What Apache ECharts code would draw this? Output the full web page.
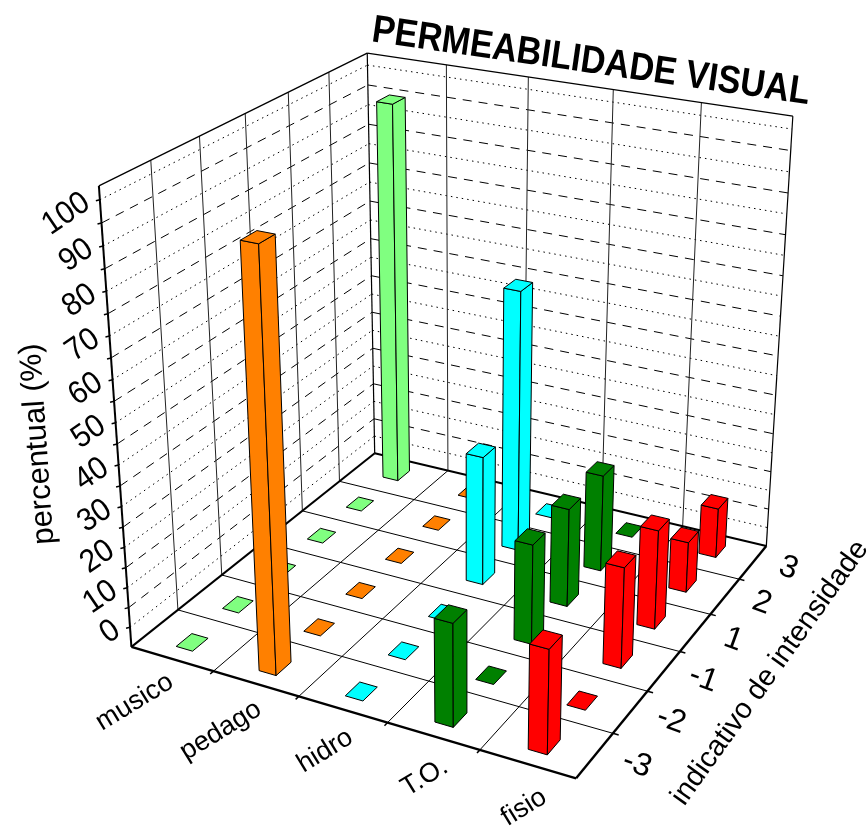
<!DOCTYPE html>
<html>
<head>
<meta charset="utf-8">
<title>Permeabilidade visual</title>
<style>html,body{margin:0;background:#fff}#main{width:867px;height:827px}</style>
<script src="https://cdn.jsdelivr.net/npm/echarts@6/dist/echarts.min.js"></script>
</head>
<body>
<div id="main"></div>
<script>
var categories = ['musico', 'pedago', 'hidro', 'T.O.', 'fisio'];
var intensities = ['-3', '-2', '-1', '1', '2', '3'];
var zLabels = [0, 10, 20, 30, 40, 50, 60, 70, 80, 90, 100];
var zHalfTicks = [5, 15, 25, 35, 45, 55, 65, 75, 85, 95];

// percentual per intensidade (-3 .. 3)
var musico = [0, 0, 0, 0, 0, 100];
var pedago = [100, 0, 0, 0, 0, 0];
var hidro = [0, 0, 0, 33, 67, 0];
var terapia = [25, 0, 25, 25, 25, 0];
var fisio = [25, 0, 25, 25, 13, 13];
var colors = ['#80ff80', '#ff8000', '#00ffff', '#008000', '#ff0000'];

var zMin = -5, zMax = 103;
var font = '"Liberation Sans", Arial, sans-serif';

// caixa 3D -> tela: projecao ajustada pelos cantos da caixa
var anchors = [
    [0, 0, 0, 132, 647], [1, 0, 0, 575, 778], [1, 1, 0, 765, 546], [0, 1, 0, 374, 454],
    [0, 0, 1, 99, 185], [1, 1, 1, 793, 117], [0, 1, 1, 367, 53],
    [.2, 0, 0, 214, 671], [.8, 0, 0, 480, 750], [1, 1 / 6, 0, 612, 735], [1, 5 / 6, 0, 742, 577]
];
function solve(A, b) {
    var n = b.length;
    for (var i = 0; i < n; i++) {
        var p = i;
        for (var r = i + 1; r < n; r++) if (Math.abs(A[r][i]) > Math.abs(A[p][i])) p = r;
        var t = A[i]; A[i] = A[p]; A[p] = t;
        t = b[i]; b[i] = b[p]; b[p] = t;
        for (r = i + 1; r < n; r++) {
            var f = A[r][i] / A[i][i];
            for (var c = i; c < n; c++) A[r][c] -= f * A[i][c];
            b[r] -= f * b[i];
        }
    }
    var x = [];
    for (i = n - 1; i >= 0; i--) {
        var s = b[i];
        for (c = i + 1; c < n; c++) s -= A[i][c] * x[c];
        x[i] = s / A[i][i];
    }
    return x;
}
function fitProjection() {
    var rows = [], rhs = [];
    anchors.forEach(function (a) {
        var X = a[3] / 1000, Y = a[4] / 1000;
        rows.push([a[0], a[1], a[2], 1, 0, 0, 0, 0, -X * a[0], -X * a[1], -X * a[2]]); rhs.push(X);
        rows.push([0, 0, 0, 0, a[0], a[1], a[2], 1, -Y * a[0], -Y * a[1], -Y * a[2]]); rhs.push(Y);
    });
    var N = [], y = [];
    for (var i = 0; i < 11; i++) {
        N[i] = []; y[i] = 0;
        for (var j = 0; j < 11; j++) {
            N[i][j] = 0;
            rows.forEach(function (r) { N[i][j] += r[i] * r[j]; });
        }
        rows.forEach(function (r, k) { y[i] += r[i] * rhs[k]; });
    }
    return solve(N, y);
}
var P = fitProjection();
function proj(u, v, w) {
    var d = P[8] * u + P[9] * v + P[10] * w + 1;
    return [1000 * (P[0] * u + P[1] * v + P[2] * w + P[3]) / d,
            1000 * (P[4] * u + P[5] * v + P[6] * w + P[7]) / d];
}
function wOf(z) { return (z - zMin) / (zMax - zMin); }
function line(a, b, width, dash, color) {
    return {
        type: 'line',
        shape: { x1: a[0], y1: a[1], x2: b[0], y2: b[1] },
        style: { stroke: color || '#000', lineWidth: width, lineDash: dash || null, fill: null }
    };
}
function label(text, pos, size, rot, align, weight, scaleX) {
    return {
        type: 'text', x: pos[0], y: pos[1], rotation: rot, scaleX: scaleX || 1,
        style: {
            text: text, x: 0, y: 0, fill: '#000', align: align || 'center', verticalAlign: 'middle',
            font: (weight || 'normal') + ' ' + size + 'px ' + font
        }
    };
}

var nx = categories.length, ny = intensities.length;
var barU = 0.1 / nx, barV = 0.17 / ny;

function renderBar(color) {
    return function (params, api) {
        var iy = api.value(0), val = api.value(1);
        var ix = colors.indexOf(color);
        var cu = (ix + .5) / nx, cv = .5 + (iy + .5 - ny / 2) / ny * 1.027;
        var u0 = cu - barU, u1 = cu + barU, v0 = cv - barV, v1 = cv + barV;
        var h = val / (zMax - zMin);
        var sty = { fill: color, stroke: '#000', lineWidth: 1, lineJoin: 'round' };
        var kids = [{
            type: 'polygon',
            shape: { points: [proj(u0, v0, h), proj(u1, v0, h), proj(u1, v1, h), proj(u0, v1, h)] },
            style: sty
        }];
        if (val > 0) {
            kids.unshift({
                type: 'polygon',
                shape: { points: [proj(u1, v0, 0), proj(u1, v1, 0), proj(u1, v1, h), proj(u1, v0, h)] },
                style: sty
            });
            kids.unshift({
                type: 'polygon',
                shape: { points: [proj(u0, v0, 0), proj(u1, v0, 0), proj(u1, v0, h), proj(u0, v0, h)] },
                style: sty
            });
        }
        return { type: 'group', children: kids };
    };
}
function barSeries(name, values, color) {
    var rows = values.map(function (v, i) { return [i, v]; }).reverse();
    return { type: 'custom', name: name, coordinateSystem: 'none', silent: true, clip: false,
        renderItem: renderBar(color), data: rows };
}

var wallSeries = {
    type: 'custom', coordinateSystem: 'none', silent: true, clip: false,
    data: zLabels.map(function (z) { return [z, 1]; }).concat(zHalfTicks.map(function (z) { return [z, 0]; })),
    renderItem: function (params, api) {
        var w = wOf(api.value(0)), dotted = api.value(1);
        var dash = dotted ? [1.5, 4] : [9, 7];
        var a = proj(0, 0, w), d = proj(0, 1, w), c = proj(1, 1, w);
        return { type: 'group', children: [
            line(a, d, 1, dash), line(d, c, 1, dash),
            line([a[0] - 4, a[1] + 1], a, 1.5)
        ] };
    }
};
var edgeSeries = {
    type: 'custom', coordinateSystem: 'none', silent: true, clip: false,
    data: [1, 2, 3, 4].map(function (i) { return [i / nx, -1]; })
        .concat([1, 2, 3, 4, 5].map(function (i) { return [-1, i / ny]; })),
    renderItem: function (params, api) {
        var u = api.value(0), v = api.value(1), kids;
        if (v < 0) {
            kids = [
                line(proj(u, 0, 0), proj(u, 1, 0), 1),
                line(proj(u, 1, 0), proj(u, 1, 1), 1, null, '#222'),
                line(proj(u, 0, 0), proj(u, -0.012, 0), 1.5)
            ];
        } else {
            kids = [
                line(proj(0, v, 0), proj(1, v, 0), 1),
                line(proj(0, v, 0), proj(0, v, 1), 1, null, '#222'),
                line(proj(1, v, 0), proj(1.012, v, 0), 1.5)
            ];
        }
        return { type: 'group', children: kids };
    }
};
var frameSeries = {
    type: 'custom', coordinateSystem: 'none', silent: true, clip: false,
    data: [[0]],
    renderItem: function () {
        var a = proj(0, 0, 0), b = proj(1, 0, 0), c = proj(1, 1, 0), d = proj(0, 1, 0);
        var a1 = proj(0, 0, 1), c1 = proj(1, 1, 1), d1 = proj(0, 1, 1);
        return { type: 'group', children: [
            line(a, a1, 2), line(d, d1, 1.2), line(c, c1, 1.2),
            line(a1, d1, 1.3), line(d1, c1, 1.3),
            line(a, d, 2), line(d, c, 2),
            line(a, b, 2.4), line(b, c, 2.4)
        ] };
    }
};
var textSeries = {
    type: 'custom', coordinateSystem: 'none', silent: true, clip: false,
    data: [[0]],
    renderItem: function () {
        var kids = [];
        zLabels.forEach(function (z) {
            var p = proj(0, 0, wOf(z));
            kids.push(label(String(z), [p[0] - 13, p[1]], 32, .6, 'right', 'normal', .94));
        });
        categories.forEach(function (c, i) {
            var p = proj((i + .5) / nx, 0, 0);
            kids.push(label(c, [p[0] - 1 + 4.5 * i, p[1] + 21 + 2.5 * i], 27, .55, 'right'));
        });
        intensities.forEach(function (t, j) {
            var p = proj(1, (j + .5) / ny, 0);
            kids.push(label(t, [p[0] + 42 - 1.3 * j, p[1] + 9 - .6 * j], 32, -.35));
        });
        kids.push(label('PERMEABILIDADE VISUAL', [591, 62], 39, -.143, 'center', 'bold', .875));
        kids.push(label('percentual (%)', [38, 444], 31, 1.64));
        kids.push(label('indicativo de intensidade', [770, 673], 29, .95));
        return { type: 'group', children: kids };
    }
};

var chart = echarts.init(document.getElementById('main'), null, { renderer: 'canvas' });
var series = [wallSeries, edgeSeries, frameSeries];
[musico, pedago, hidro, terapia, fisio].forEach(function (vals, i) {
    series.push(barSeries(categories[i], vals, colors[i]));
});
series.push(textSeries);
chart.setOption({ animation: false, backgroundColor: '#fff', series: series });
</script>
</body>
</html>
